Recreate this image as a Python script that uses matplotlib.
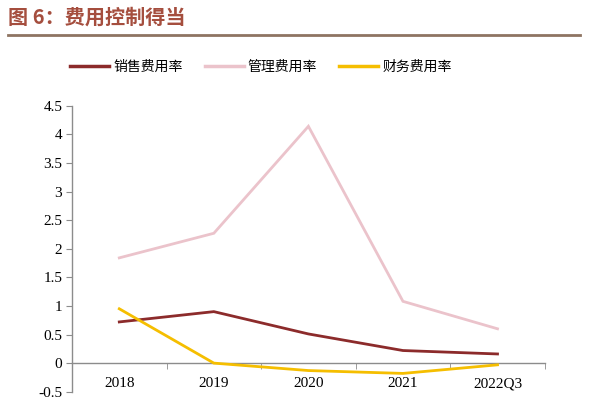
import matplotlib
matplotlib.use("Agg")
import matplotlib.pyplot as plt
from matplotlib.lines import Line2D

categories = ["2018", "2019", "2020", "2021", "2022Q3"]
sales_rate = [0.72, 0.90, 0.51, 0.22, 0.16]
admin_rate = [1.84, 2.27, 4.14, 1.08, 0.60]
finance_rate = [0.95, 0.00, -0.13, -0.18, -0.03]
series_names = ["销售费用率", "管理费用率", "财务费用率"]
yticks = [-0.5, 0, 0.5, 1, 1.5, 2, 2.5, 3, 3.5, 4, 4.5]
ytick_labels = ["-0.5", "0", "0.5", "1", "1.5", "2", "2.5", "3", "3.5", "4", "4.5"]

colors = ["#8C2B2B", "#EBC3CB", "#F5BE00"]
cjk = ["Noto Sans CJK SC", "DejaVu Sans"]
serif = ["Liberation Serif", "DejaVu Serif"]

fig = plt.figure(figsize=(6.0, 4.03), dpi=100)
ax = fig.add_axes([0.12, 0.028, 0.788, 0.7097])

x = list(range(len(categories)))
for vals, c in zip([sales_rate, admin_rate, finance_rate], colors):
    ax.plot(x, vals, color=c, lw=2.0, solid_joinstyle="miter", zorder=3)

ax.set_xlim(-0.5, len(categories) - 0.5)
ax.set_ylim(-0.5, 4.5)
ax.set_yticks(yticks)
ax.set_yticklabels(ytick_labels, fontfamily=serif, fontsize=11)

ax.spines["top"].set_visible(False)
ax.spines["right"].set_visible(False)
ax.spines["bottom"].set_position(("data", 0))
for s in ["left", "bottom"]:
    ax.spines[s].set_color("#8C8C8C")
    ax.spines[s].set_linewidth(1.0)

ax.set_xticks(x)
ax.set_xticklabels(categories, fontfamily=serif, fontsize=11)
ax.set_xticks([i - 0.5 for i in range(len(categories) + 1)], minor=True)
ax.tick_params(axis="x", which="major", length=0, pad=10)
ax.tick_params(axis="x", which="minor", length=4, color="#8C8C8C", direction="out")
ax.tick_params(axis="y", length=4, color="#8C8C8C", direction="out", pad=3)

handles = [Line2D([0], [0], color=c, lw=2.5) for c in colors]
fig.legend(handles, series_names, loc="center", bbox_to_anchor=(0.435, 0.834),
           ncol=3, frameon=False, prop={"family": cjk, "size": 10},
           handlelength=2.8, columnspacing=1.6, handletextpad=0.3)

fig.text(0.013, 0.957, "图 6：费用控制得当", fontfamily=cjk, fontsize=14.5,
         fontweight="bold", color="#A54E3E", va="center", ha="left")
fig.add_artist(Line2D([0.013, 0.967], [0.913, 0.913], transform=fig.transFigure,
                      color="#8E7462", lw=2.0))

fig.savefig("out.png", dpi=100)
